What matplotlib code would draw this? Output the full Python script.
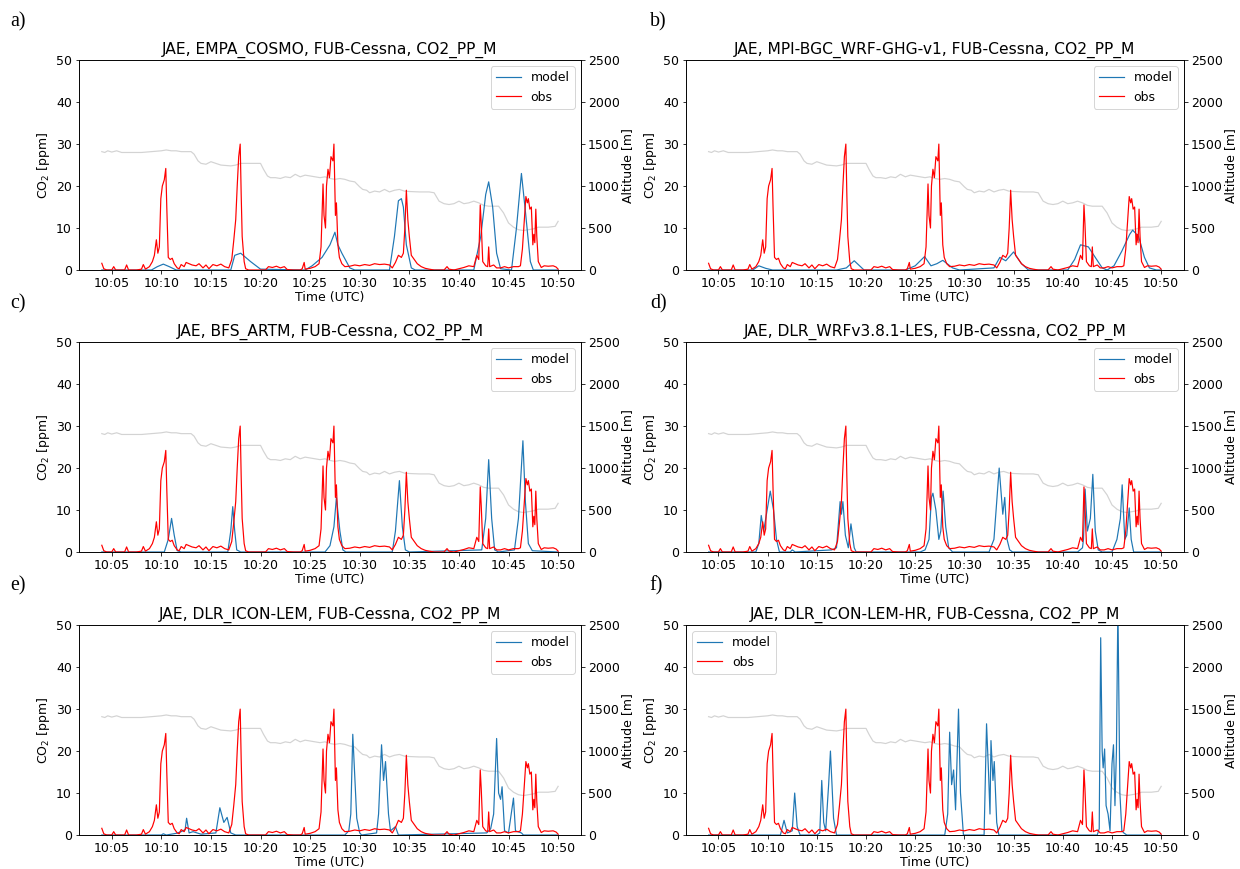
import numpy as np
import matplotlib
matplotlib.use('Agg')
import matplotlib.pyplot as plt
import matplotlib.dates as mdates

# time in minutes after 10:00 UTC
obs_t = [4.0, 4.2, 4.5, 5.0, 5.2, 5.4, 6.3, 6.5, 6.7, 7.5, 8.0, 8.2, 8.4, 8.8, 9.1, 9.3, 9.5, 9.65, 9.8, 9.95,
         10.1, 10.3, 10.45, 10.55, 10.7, 10.9, 11.1, 11.3, 11.6, 11.8, 12.0, 12.3, 12.5, 12.8, 13.1, 13.5, 13.8,
         14.2, 14.5, 14.8, 15.2, 15.6, 16.0, 16.4, 16.8, 17.1, 17.3, 17.5, 17.65, 17.8, 17.95, 18.05, 18.15,
         18.35, 18.5, 18.8, 19.5, 20.5, 20.8, 21.2, 21.6, 22.0, 22.4, 22.7, 23.3, 24.0, 24.2, 24.4, 24.5, 25.0,
         25.5, 25.9, 26.1, 26.3, 26.4, 26.55, 26.65, 26.8, 26.95, 27.1, 27.3, 27.4, 27.55, 27.65, 27.8, 27.95,
         28.2, 28.5, 29.0, 29.5, 30.0, 30.5, 31.0, 31.5, 32.0, 32.5, 33.0, 33.3, 33.6, 33.9, 34.2, 34.4, 34.55,
         34.7, 34.85, 35.0, 35.2, 35.5, 35.8, 36.2, 36.6, 37.0, 37.5, 38.5, 38.8, 39.0, 39.5, 40.0, 40.5, 41.0,
         41.5, 41.8, 42.0, 42.15, 42.25, 42.4, 42.7, 42.9, 43.0, 43.1, 43.5, 43.8, 44.2, 44.6, 45.0, 45.5, 46.0,
         46.2, 46.4, 46.6, 46.75, 46.9, 47.0, 47.15, 47.3, 47.45, 47.55, 47.65, 47.75, 47.85, 48.0, 48.3, 48.6,
         49.0, 49.5, 49.8, 50.0]
obs_co2 = [1.6, 0.3, 0, 0, 0.8, 0, 0, 1.2, 0, 0, 0.2, 1.3, 0.2, 0.8, 2.0, 3.5, 7.2, 4.0, 5.5, 17,
           20, 21.5, 24.2, 15, 3.0, 2.5, 2.8, 1.5, 0.5, 0.3, 1.3, 0.8, 1.8, 1.5, 1.2, 1.0, 1.5,
           0.5, 1.2, 0.3, 1.3, 1.0, 1.4, 0.8, 0.5, 2.5, 7, 12, 20, 27, 30, 18, 8,
           2, 0.3, 0, 0, 0, 0.8, 0.6, 0.9, 0.5, 0.8, 0.1, 0, 0, 0.3, 1.8, 0.2, 0.4,
           0.8, 1.5, 5.5, 20.5, 13, 10, 20, 24, 22, 27, 26, 30, 13, 16, 6, 3,
           1.5, 0.8, 0.9, 1.2, 1.0, 1.3, 1.1, 1.5, 1.3, 1.4, 1.2, 0.5, 1.8, 3.5, 3.0, 4.0, 10,
           19, 12, 8, 3.5, 2.5, 1.5, 0.8, 0.4, 0.2, 0, 0, 0.8, 0.2, 0, 0.3, 0.6, 1.0,
           0.8, 3.5, 2.5, 15.5, 11, 2.0, 1.0, 0.8, 5.5, 0.8, 1.2, 0.5, 0.5, 0.8, 0.5, 0.8, 0.8,
           1.0, 5, 12, 17.5, 16, 17, 14.5, 15, 6, 8.5, 6.5, 14.5, 8, 2, 0.6, 1.0,
           0.9, 1.0, 0.7, 0.2]

alt_t = [4.0, 4.3, 4.6, 5.0, 5.5, 6.0, 7.0, 8.0, 9.0, 10.0, 10.5, 11.0, 11.5, 12.0, 13.0, 13.3, 13.7, 14.0,
         14.5, 15.0, 15.5, 16.0, 17.0, 17.5, 18.0, 19.0, 20.0, 20.3, 20.7, 21.0, 21.5, 22.0, 22.5, 23.0, 23.5,
         24.0, 24.5, 25.0, 25.5, 26.0, 26.5, 27.0, 27.5, 28.0, 28.5, 29.0, 29.5, 30.0, 30.3, 30.7, 31.0, 31.5,
         32.0, 32.5, 33.0, 33.5, 34.0, 34.5, 35.0, 36.0, 37.0, 37.5, 38.0, 38.5, 39.0, 39.5, 40.0, 40.5, 41.0,
         41.5, 42.0, 42.5, 43.0, 43.5, 44.0, 44.5, 45.0, 45.5, 46.0, 46.5, 47.0, 47.5, 48.0, 49.0, 49.7, 50.0]
alt_m = [1410, 1400, 1420, 1405, 1420, 1400, 1400, 1400, 1410, 1420, 1430, 1420, 1420, 1410, 1410, 1380, 1300, 1270,
         1260, 1290, 1270, 1250, 1240, 1250, 1270, 1270, 1270, 1200, 1120, 1100, 1100, 1090, 1110, 1100, 1140,
         1110, 1130, 1120, 1110, 1100, 1110, 1090, 1080, 1090, 1080, 1060, 1050, 990, 960, 950, 920, 940,
         930, 960, 930, 950, 960, 940, 935, 930, 930, 920, 820, 790, 780, 790, 820, 790, 800,
         820, 800, 770, 760, 760, 760, 680, 560, 510, 480, 470, 480, 490, 510, 510, 520, 580]

titles = ['JAE, EMPA_COSMO, FUB-Cessna, CO2_PP_M',
          'JAE, MPI-BGC_WRF-GHG-v1, FUB-Cessna, CO2_PP_M',
          'JAE, BFS_ARTM, FUB-Cessna, CO2_PP_M',
          'JAE, DLR_WRFv3.8.1-LES, FUB-Cessna, CO2_PP_M',
          'JAE, DLR_ICON-LEM, FUB-Cessna, CO2_PP_M',
          'JAE, DLR_ICON-LEM-HR, FUB-Cessna, CO2_PP_M']
letters = ['a)', 'b)', 'c)', 'd)', 'e)', 'f)']

mod_a_t = [4.0, 9.0, 9.6, 10.2, 10.8, 11.5, 17.0, 17.4, 18.0, 18.5, 19.0, 20.0, 24.5, 25.2, 26.2, 27.0, 27.5,
           27.8, 28.2, 29.0, 29.5, 33.0, 33.5, 33.9, 34.2, 34.4, 34.7, 35.2, 35.6, 41.5, 42.2, 42.7, 43.0,
           43.4, 43.8, 44.2, 45.3, 45.8, 46.3, 46.7, 47.2, 47.5, 50.0]
mod_a = [0, 0, 0.8, 1.4, 0.8, 0, 0, 3.5, 4.0, 3.0, 2.0, 0.2, 0, 1.0, 3.0, 6.0, 9.0,
         6.0, 4.0, 0.5, 0, 0, 8, 16.5, 17, 15, 6, 0.5, 0, 0, 8, 18, 21,
         15, 4, 0.3, 0, 10, 23, 14, 2, 0, 0]

mod_b_t = [4.0, 8.5, 9.1, 9.8, 10.5, 17.0, 18.0, 18.8, 19.8, 24.0, 25.0, 25.95, 26.6, 27.2, 27.8, 28.8, 29.5,
           33.0, 33.6, 34.2, 35.0, 35.8, 36.5, 40.5, 41.2, 41.8, 42.6, 43.3, 44.0, 44.5, 45.2, 46.0, 46.8,
           47.1, 47.7, 48.3, 48.8, 49.5, 50.0]
mod_b = [0, 0, 1.0, 0.4, 0, 0, 0.5, 2.2, 0, 0, 1.0, 3.2, 1.0, 1.5, 2.3, 0.5, 0,
         0.5, 3.0, 2.2, 4.3, 1.5, 0, 0, 2.5, 6.0, 5.5, 3.0, 0.5, 0, 1.0, 4.5, 8.5,
         9.5, 8.0, 3.0, 0.5, 0, 0]

mod_c_t = [4.0, 10.3, 10.7, 11.04, 11.3, 11.6, 12.0, 16.7, 17.0, 17.2, 17.4, 17.6, 18.0, 26.5, 27.0, 27.4,
           27.65, 28.0, 28.3, 28.6, 33.3, 33.6, 34.0, 34.3, 34.6, 35.0, 42.3, 42.7, 43.0, 43.3, 43.6, 44.0,
           45.6, 46.0, 46.45, 46.7, 47.0, 47.4, 50.0]
mod_c = [0, 0, 3, 8, 4, 0.3, 0, 0, 5, 10.8, 5, 0.5, 0, 0, 1.5, 6,
         13, 5, 0.5, 0, 0, 5, 17, 6, 0.5, 0, 0.5, 8, 22, 8, 0.5, 0,
         0.5, 8, 26.5, 12, 2, 0.3, 0]

mod_d_t = [4.0, 8.8, 9.1, 9.36, 9.6, 9.95, 10.27, 10.6, 10.9, 11.2, 12.3, 12.5, 12.8, 16.5, 17.0, 17.37,
           17.5, 17.65, 17.9, 18.2, 18.48, 18.8, 19.0, 25.5, 26.0, 26.4, 26.65, 26.8, 27.1, 27.4, 27.6,
           27.84, 28.1, 28.4, 28.8, 32.5, 33.0, 33.3, 33.55, 33.9, 34.1, 34.34, 34.6, 34.9, 35.3, 41.5, 42.0,
           42.1, 42.27, 42.5, 42.8, 43.06, 43.3, 43.6, 44.0, 45.0, 45.5, 45.85, 46.04, 46.3, 46.5, 46.75,
           46.95, 47.2, 50.0]
mod_d = [0, 0, 2, 8.7, 5, 10, 14.5, 10, 3, 0, 0, 0.5, 0, 0.5, 1, 12,
         9, 12, 4, 1, 6.7, 1, 0, 0, 0.5, 3, 13, 14, 10, 3, 5,
         14.5, 6, 1, 0, 0, 3, 12, 20, 9, 13, 3, 0.5, 0, 0, 0, 1,
         3, 15, 5, 8, 18.5, 5, 0.5, 0, 0, 3, 8, 16, 3, 4, 10.5,
         3, 0, 0]

mod_e_t = [4.0, 10.0, 10.2, 10.5, 11.5, 12.0, 12.4, 12.55, 12.8, 13.2, 14.0, 15.5, 15.9, 16.3, 16.65, 17.0,
           17.5, 28.5, 28.9, 29.1, 29.3, 29.5, 29.7, 30.0, 30.2, 31.7, 31.9, 32.2, 32.4, 32.6, 32.9, 33.1,
           33.6, 33.9, 42.8, 43.2, 43.5, 43.8, 44.0, 44.2, 44.35, 44.6, 45.0, 45.5, 45.7, 46.3, 46.5, 50.0]
mod_e = [0, 0, 0.3, 0, 0.4, 0.8, 1.3, 4, 0.5, 0.8, 0.2, 0.5, 6.5, 3, 4.2, 0.5,
         0, 0, 1, 5, 24, 14, 4, 0.5, 0, 0.5, 5, 21.5, 13, 17.5, 5, 1,
         2, 0, 0.5, 1.5, 5, 23, 10, 8.5, 11.5, 1, 0.5, 8.8, 1, 0.5, 0, 0]

mod_f_t = [4.0, 11.3, 11.67, 12.0, 12.5, 12.75, 13.0, 13.3, 15.0, 15.3, 15.5, 15.7, 15.9, 16.2, 16.4, 16.7,
           17.0, 28.0, 28.3, 28.5, 28.7, 28.9, 29.1, 29.4, 29.6, 29.9, 32.0, 32.25, 32.45, 32.6, 32.7, 32.9,
           33.05, 33.3, 33.5, 43.5, 43.7, 43.85, 44.0, 44.1, 44.25, 44.4, 44.6, 44.8, 45.0, 45.15, 45.3,
           45.45, 45.6, 45.8, 46.0, 46.2, 46.5, 50.0]
mod_f = [0, 0, 3.5, 0.5, 1, 10, 2, 0, 0, 0.5, 13, 3, 1, 12, 20, 4,
         0, 0, 5, 24.5, 12, 15.5, 6, 30, 10, 0, 0, 26.5, 15, 5, 22.5, 13,
         17.5, 3, 0, 0, 1.5, 47, 20, 16, 20.5, 7, 5, 1, 17, 21.5, 7,
         20, 55, 10, 1, 0.5, 0, 0]

models_t = [mod_a_t, mod_b_t, mod_c_t, mod_d_t, mod_e_t, mod_f_t]
models = [mod_a, mod_b, mod_c, mod_d, mod_e, mod_f]
leg_loc = ['upper right'] * 5 + ['upper left']


def to_time(minutes):
    base = np.datetime64('2018-06-07T10:00:00')
    return base + (np.array(minutes) * 60).astype('timedelta64[s]')


DPI = 72
fs = 12.5
fig = plt.figure(figsize=(1240 / DPI, 869 / DPI), dpi=DPI)
lefts = [0.0637, 0.5532]
widths = [0.4048, 0.4015]
bottoms = [0.6893, 0.3648, 0.0391]
h = 0.2415

for i in range(6):
    row, col = i // 2, i % 2
    ax = fig.add_axes([lefts[col], bottoms[row], widths[col], h])
    ax2 = ax.twinx()
    ax2.plot(to_time(alt_t), alt_m, color='lightgray', lw=1.2)
    ax2.set_ylim(0, 2500)
    ax2.set_ylabel('Altitude [m]', fontsize=fs, labelpad=1)
    ax2.tick_params(labelsize=fs)
    ax.set_zorder(ax2.get_zorder() + 1)
    ax.patch.set_visible(False)

    ax.plot(to_time(models_t[i]), models[i], color='tab:blue', lw=1.2, label='model')
    ax.plot(to_time(obs_t), obs_co2, color='red', lw=1.2, label='obs')
    ax.set_ylim(0, 50)
    ax.set_ylabel('CO$_2$ [ppm]', fontsize=fs)
    ax.set_xlabel('Time (UTC)', fontsize=fs, labelpad=1)
    ax.set_title(titles[i], fontsize=15.5)
    ax.tick_params(labelsize=fs)
    ax.xaxis.set_major_locator(mdates.MinuteLocator(byminute=range(5, 55, 5)))
    ax.xaxis.set_major_formatter(mdates.DateFormatter('%H:%M'))
    ax.legend(loc=leg_loc[i], fontsize=fs)

    fig.text(0.008 + 0.516 * col, 0.975 - 0.3245 * row, letters[i], fontsize=20,
             family='Liberation Serif', va='center')

plt.savefig('out.png', dpi=DPI)
